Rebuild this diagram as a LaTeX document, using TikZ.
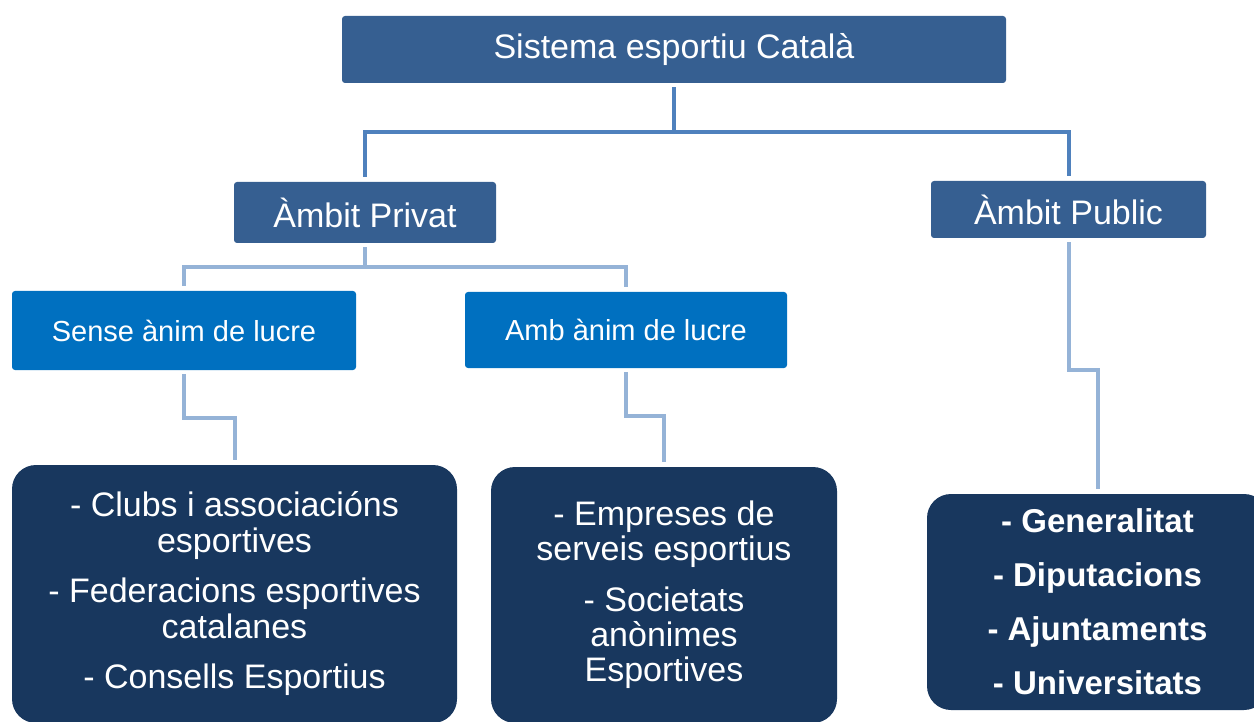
\documentclass[tikz,border=0pt]{standalone}
\usepackage{fontspec}
\setmainfont{Liberation Sans}
\usepackage{tikz}
\usepackage{xcolor}
\usetikzlibrary{
    calc,
    positioning
}
\definecolor{headblue}{RGB}{54,95,145}
\definecolor{kindblue}{RGB}{0,112,192}
\definecolor{listblue}{RGB}{24,55,94}
\definecolor{trunkline}{RGB}{79,129,189}
\definecolor{branchline}{RGB}{149,179,215}
\tikzset{headbox/.style={rectangle, rounded corners=3pt, fill=headblue, text=white, inner sep=0pt, font=\fontsize{34}{36}\selectfont}}
\tikzset{kindbox/.style={rectangle, rounded corners=3pt, fill=kindblue, text=white, inner sep=0pt, font=\fontsize{29}{31}\selectfont}}
\tikzset{listbox/.style={rectangle, rounded corners=24pt, fill=listblue, text=white, inner sep=0pt, align=center}}
\tikzset{trunk/.style={draw=trunkline, line width=4pt, shorten <=4pt, shorten >=5pt}}
\tikzset{branch/.style={draw=branchline, line width=4pt, shorten <=4pt, shorten >=5pt}}

\begin{document}
\begin{tikzpicture}[x=1pt, y=-1pt]
    \clip (0, 0) rectangle (1254, 722);

    \node[headbox, minimum width=664, minimum height=67] (sys) at (674, 49.5) {Sistema esportiu Català};

    \node[headbox, minimum width=262, minimum height=61] (priv) at (365, 212.5) {Àmbit Privat};
    \node[headbox, minimum width=275, minimum height=57] (pub) at (1068.5, 209.5) {Àmbit Public};

    \node[kindbox, minimum width=344, minimum height=79] (sense) at (184, 330.5) {Sense ànim de lucre};
    \node[kindbox, minimum width=322, minimum height=76] (amb) at (626, 330) {Amb ànim de lucre};

    \node[listbox, minimum width=445, minimum height=258, font=\fontsize{34}{36}\selectfont] (clubs) at (234.5, 594)
        {- Clubs i associacións\\esportives\\[14pt]- Federacions esportives\\catalanes\\[14pt]- Consells Esportius};
    \node[listbox, minimum width=346, minimum height=256, font=\fontsize{34}{35}\selectfont] (empr) at (664, 595)
        {- Empreses de\\serveis esportius\\[16pt]- Societats\\anònimes\\Esportives};
    \node[listbox, minimum width=341, minimum height=216, font=\bfseries\fontsize{33}{54}\selectfont] (gen) at (1097.5, 602)
        {- Generalitat\\- Diputacions\\- Ajuntaments\\- Universitats};

    \draw[trunk] (sys.south) -- ++(0, 49) -| (priv.north);
    \draw[trunk] (sys.south) -- ++(0, 49) -| (pub.north);

    \draw[branch] (priv.south) -- ++(0, 24) -| (sense.north);
    \draw[branch] (priv.south) -- ++(0, 24) -| (amb.north);

    \draw[branch] (sense.south) -- ++(0, 48) -| (clubs.north);
    \draw[branch] (amb.south) -- ++(0, 48) -| (empr.north);
    \draw[branch] (pub.south) -- ++(0, 132) -| (gen.north);
\end{tikzpicture}
\end{document}
